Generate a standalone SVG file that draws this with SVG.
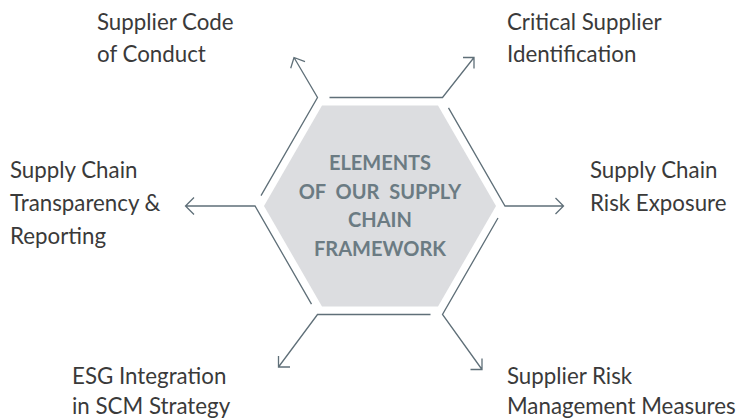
<svg xmlns="http://www.w3.org/2000/svg" width="739" height="419" viewBox="0 0 739 419">
<style>
.lbl{font-family:Lato,"Noto Sans",sans-serif;font-size:22.3px;fill:#3a3a3a}
.ctr{font-family:Lato,"Noto Sans",sans-serif;font-size:20px;font-weight:bold;fill:#6b7b83;text-anchor:middle}
.ln{fill:none;stroke:#5f6f78;stroke-width:1.3;stroke-linejoin:miter}
</style>
<rect width="739" height="419" fill="#ffffff"/>
<g id="center">
<polygon points="264,206 322,105.5 438,105.5 496,206 438,306.5 322,306.5" fill="#dcdde0"/>
<text class="ctr" x="380" y="170">ELEMENTS</text>
<text class="ctr" x="380" y="198.5" word-spacing="5">OF OUR SUPPLY</text>
<text class="ctr" x="380" y="227">CHAIN</text>
<text class="ctr" x="380" y="255.5">FRAMEWORK</text>
</g>
<g id="connectors">
<path class="ln" d="M329.5,97.5 L442.5,97.5 L474,57.5 M463,57.5 L474,57.5 L474,68.5"/>
<path class="ln" d="M448.5,107.9 L505,206 L563.5,206 M555.5,198 L563.5,206 L555.5,214"/>
<path class="ln" d="M498,218 L442.5,314.5 L482,369.5 M470.5,369.5 L482,369.5 L482,358.5"/>
<path class="ln" d="M430.5,314.5 L317.5,314.5 L278.5,367 M278.5,356 L278.5,367 L290,367"/>
<path class="ln" d="M311.5,304.1 L255,206 L185.5,206 M194,197.5 L185.5,206 L194,214.5"/>
<path class="ln" d="M261,195.6 L317.5,97.5 L294,57.5 M290.7,68.3 L294,57.5 L305,61.7"/>
</g>
<g id="n-code">
<text class="lbl" x="97" y="30">Supplier Code</text>
<text class="lbl" x="97" y="62">of Conduct</text>
</g>
<g id="n-critical">
<text class="lbl" x="507" y="30">Critical Supplier</text>
<text class="lbl" x="507" y="62">Identification</text>
</g>
<g id="n-risk">
<text class="lbl" x="590" y="178">Supply Chain</text>
<text class="lbl" x="590" y="211">Risk Exposure</text>
</g>
<g id="n-transparency">
<text class="lbl" x="10" y="178">Supply Chain</text>
<text class="lbl" x="10" y="211">Transparency &amp;</text>
<text class="lbl" x="10" y="244">Reporting</text>
</g>
<g id="n-esg">
<text class="lbl" x="72" y="384">ESG Integration</text>
<text class="lbl" x="72" y="413.5">in SCM Strategy</text>
</g>
<g id="n-measures">
<text class="lbl" x="507" y="384">Supplier Risk</text>
<text class="lbl" x="507" y="413.5">Management Measures</text>
</g>
</svg>
